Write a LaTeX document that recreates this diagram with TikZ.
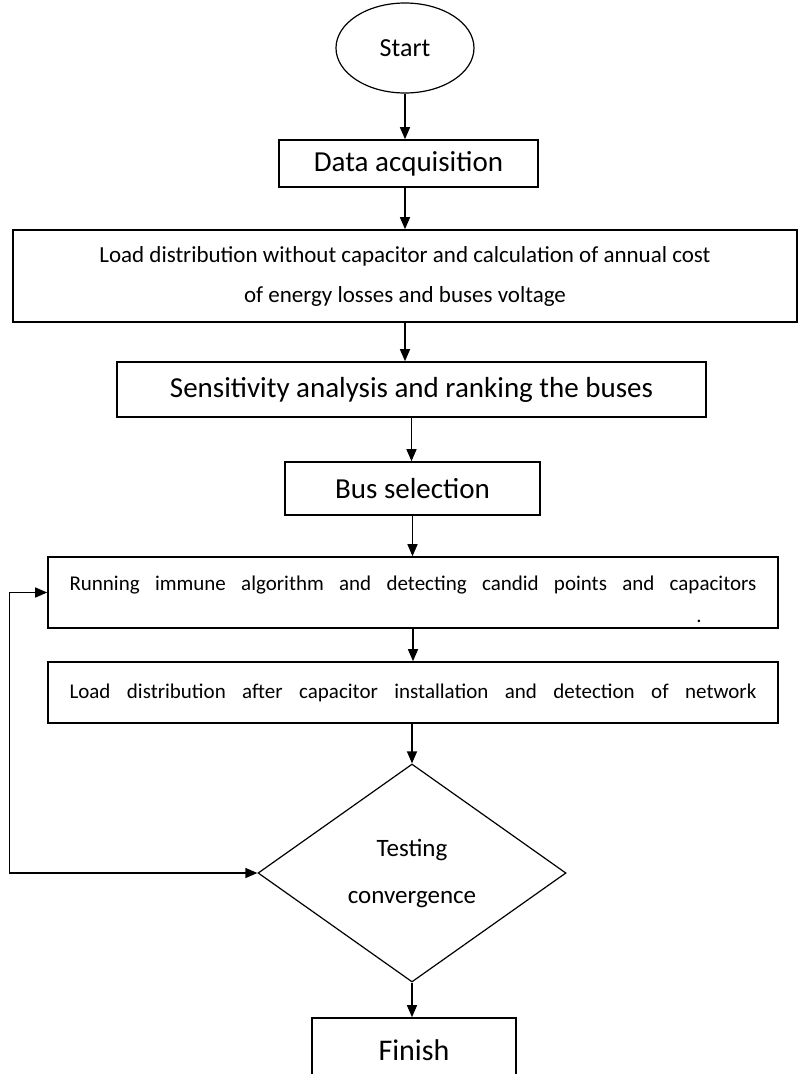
\documentclass[tikz,border=0pt]{standalone}
\usepackage{fontspec}
\setmainfont{Carlito}
\usetikzlibrary{
    shapes.geometric, % ellipse and diamond shapes
    arrows.meta       % arrow tips with a given size
}
\newcommand{\pixel}{1pt}
\newcommand{\bigtext}{\fontsize{29}{32}\selectfont}
\newcommand{\smalltext}{\fontsize{23}{40}\selectfont}
\tikzset{
    terminal node/.style={ellipse, draw, line width=1.2pt, minimum width=138*\pixel, minimum height=90*\pixel, font=\fontsize{26}{28}\selectfont},
    process box/.style={rectangle, draw, line width=1.6pt, inner sep=0pt},
    decision node/.style={diamond, draw, line width=1.2pt, minimum width=308*\pixel, minimum height=218*\pixel, inner sep=0pt, align=center, font=\fontsize{25}{47}\selectfont},
    flow arrow/.style={-{Triangle[length=12pt, width=10pt]}, line width=1.4pt},
    back arrow/.style={{Triangle[length=12pt, width=10pt]}-{Triangle[length=12pt, width=10pt]}, line width=1.4pt}
}
\begin{document}
\begin{tikzpicture}[x=\pixel, y=-\pixel, line cap=butt, join=miter]
        \useasboundingbox (0,0) rectangle (798,1074);
        \node [terminal node] (start) at (405,48) {Start};
        \node [process box, minimum width=259*\pixel, minimum height=47*\pixel, font=\bigtext] (data) at (408.5,163.5) {Data acquisition};
        \node [process box, minimum width=784*\pixel, minimum height=92*\pixel, align=center, font=\smalltext] (load) at (405,276) {Load distribution without capacitor and calculation of annual cost\\ of energy losses and buses voltage};
        \node [process box, minimum width=589*\pixel, minimum height=55*\pixel, font=\bigtext] (sens) at (411.5,389.5) {Sensitivity analysis and ranking the buses};
        \node [process box, minimum width=255*\pixel, minimum height=53*\pixel, font=\bigtext] (bus) at (412.5,488.5) {Bus selection};
        \node [process box, minimum width=730*\pixel, minimum height=71*\pixel, align=left, font=\fontsize{21}{32}\selectfont] (run) at (413,592.5) {\rule{0pt}{28pt}\makebox[687pt][s]{Running immune algorithm and detecting candid points and capacitors}\\ \hspace*{627pt}.};
        \node [process box, minimum width=730*\pixel, minimum height=61*\pixel, font=\fontsize{21}{32}\selectfont] (after) at (413,692.5) {\makebox[687pt][s]{Load distribution after capacitor installation and detection of network}};
        \node [decision node] (test) at (412,873) {Testing\\ convergence};
        \node [process box, minimum width=204*\pixel, minimum height=64*\pixel, font=\fontsize{30}{32}\selectfont] (finish) at (414,1050) {Finish};

        \draw[flow arrow] (start.south) -- (start.south |- data.north);
        \draw[flow arrow] (start.south |- data.south) -- (start.south |- load.north);
        \draw[flow arrow] (load.south) -- (load.south |- sens.north);
        \draw[flow arrow] (sens.south) -- (sens.south |- bus.north);
        \draw[flow arrow] (bus.south) -- (bus.south |- run.north);
        \draw[flow arrow] (run.south) -- (run.south |- after.north);
        \draw[flow arrow] (test.north |- after.south) -- (test.north);
        \draw[flow arrow] (test.south) -- (test.south |- finish.north);
        \draw[back arrow] (test.west) -- ++(-248,0) |- (run.west);
\end{tikzpicture}
\end{document}
